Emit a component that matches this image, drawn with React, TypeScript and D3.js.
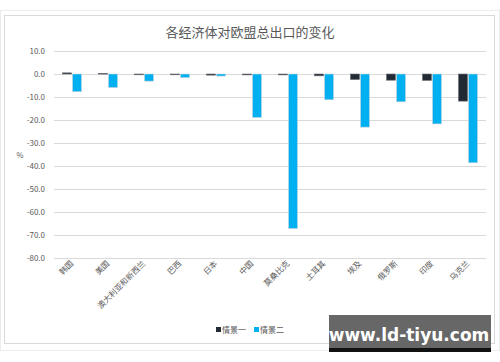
import React, { useEffect, useRef } from 'react';
import * as d3 from 'd3';

const categories = [
  '韩国', '美国', '澳大利亚和新西兰', '巴西', '日本', '中国',
  '莫桑比克', '土耳其', '埃及', '俄罗斯', '印度', '乌克兰',
];
const seriesNames = ['情景一', '情景二'];
const scenario1 = [0.5, 0.3, -0.3, -0.3, -0.5, -0.4, -0.4, -0.8, -2.4, -2.7, -2.8, -11.8];
const scenario2 = [-7.7, -5.9, -3.1, -1.6, -0.9, -18.9, -67.2, -11.2, -23.1, -12.1, -21.7, -38.6];
const yTicks = [10, 0, -10, -20, -30, -40, -50, -60, -70, -80];
const colors = ['#222a35', '#00b0f0'];

const FONT = '"Noto Sans CJK SC", "Noto Sans", sans-serif';

const App: React.FC = () => {
  const ref = useRef<SVGSVGElement>(null);

  useEffect(() => {
    if (!ref.current) return;
    const svg = d3.select(ref.current);
    svg.selectAll('*').remove();

    // frame
    svg.append('rect').attr('x', 0.5).attr('y', 10.5).attr('width', 499).attr('height', 340)
      .attr('fill', '#fff').attr('stroke', '#ececec');
    svg.append('rect').attr('x', 4.5).attr('y', 15.5).attr('width', 490).attr('height', 328)
      .attr('fill', '#fff').attr('stroke', '#d9d9d9');

    const left = 54;
    const right = 486;
    const x0 = d3.scaleBand<string>().domain(categories).range([left, right]);
    const bw = x0.bandwidth();
    const x1 = d3.scaleBand<string>().domain(seriesNames)
      .range([bw * 0.235, bw * 0.765]).paddingInner(0.1);
    const y = d3.scaleLinear().domain([-80, 10]).range([258, 51]);

    // title
    svg.append('text').attr('x', 250).attr('y', 36.5).attr('text-anchor', 'middle')
      .style('font-family', FONT).style('font-size', '13px').attr('fill', '#595959')
      .text('各经济体对欧盟总出口的变化');

    // grid
    svg.append('g').selectAll('line').data(yTicks).enter().append('line')
      .attr('x1', left).attr('x2', right)
      .attr('y1', (d) => Math.round(y(d)) + 0.5).attr('y2', (d) => Math.round(y(d)) + 0.5)
      .attr('stroke', '#d9d9d9').attr('stroke-width', 1);

    // y tick labels
    svg.append('g').selectAll('text').data(yTicks).enter().append('text')
      .attr('x', 45).attr('y', (d) => y(d) + 2.8).attr('text-anchor', 'end')
      .style('font-family', FONT).style('font-size', '8px').attr('fill', '#595959')
      .text((d) => d.toFixed(1));

    svg.append('text').attr('x', 20).attr('y', 158).attr('text-anchor', 'middle')
      .style('font-family', FONT).style('font-size', '7.5px').attr('fill', '#595959')
      .text('%');

    // bars
    const rows = categories.map((c, i) => ({ c, vals: [scenario1[i], scenario2[i]] }));
    const groups = svg.append('g').selectAll('g').data(rows).enter().append('g')
      .attr('transform', (d) => `translate(${x0(d.c)},0)`);
    groups.selectAll('rect')
      .data((d) => d.vals.map((v, k) => ({ v, k })))
      .enter().append('rect')
      .attr('x', (d) => x1(seriesNames[d.k]) as number)
      .attr('width', x1.bandwidth())
      .attr('y', (d) => y(Math.max(0, d.v)))
      .attr('height', (d) => Math.max(0.8, Math.abs(y(d.v) - y(0))))
      .attr('fill', (d) => colors[d.k])
      .attr('stroke', (d) => (d.k === 1 ? '#c8d4dc' : '#6b6f75'))
      .attr('stroke-width', 0.6);

    // x labels
    svg.append('g').selectAll('text').data(categories).enter().append('text')
      .attr('transform', (d) => `translate(${(x0(d) as number) + bw / 2 + 2},${264}) rotate(-45)`)
      .attr('text-anchor', 'end')
      .style('font-family', FONT).style('font-size', '8px').attr('fill', '#595959')
      .text((d) => d);

    // legend
    const legend = svg.append('g').attr('transform', 'translate(216,332)');
    const items = [
      { name: seriesNames[0], x: 0 },
      { name: seriesNames[1], x: 38 },
    ];
    items.forEach((it, k) => {
      legend.append('rect').attr('x', it.x).attr('y', -5).attr('width', 5).attr('height', 5)
        .attr('fill', colors[k]);
      legend.append('text').attr('x', it.x + 6).attr('y', 0.5)
        .style('font-family', FONT).style('font-size', '8px').attr('fill', '#595959')
        .text(it.name);
    });

    // watermark overlay
    svg.append('rect').attr('x', 329).attr('y', 315).attr('width', 162).attr('height', 37)
      .attr('fill', '#676767');
    svg.append('rect').attr('x', 329).attr('y', 348).attr('width', 162).attr('height', 4)
      .attr('fill', '#111');
    svg.append('text').attr('x', 409).attr('y', 341).attr('text-anchor', 'middle')
      .style('font-family', '"DejaVu Sans", sans-serif').style('font-size', '17px')
      .style('font-weight', 'bold').attr('fill', '#fff')
      .text('www.ld-tiyu.com');
  }, []);

  return (
    <svg
      ref={ref}
      width={500}
      height={362}
      style={{ position: 'absolute', left: 0, top: 0, background: '#fff' }}
    />
  );
};

export default App;
